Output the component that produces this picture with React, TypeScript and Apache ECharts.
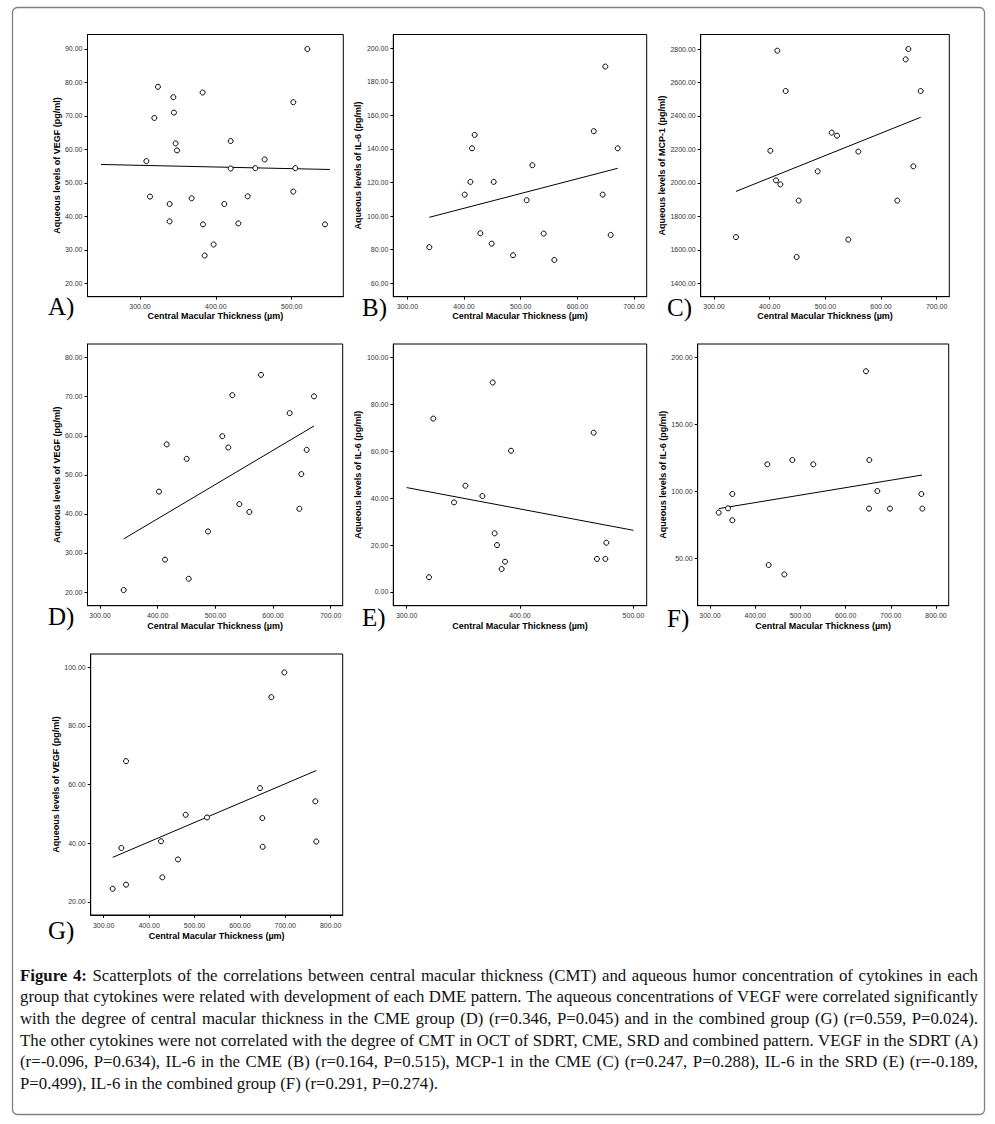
import React, { useEffect, useRef } from "react";
import * as echarts from "echarts";

// ---------- DATA ----------
// A) SDRT group: CMT vs VEGF
const cmtA = [520.7, 323.7, 382.6, 344.0, 502.2, 318.9, 344.8, 347.0, 348.8, 419.6, 308.4, 464.4, 419.6, 452.1, 504.8, 313.2, 368.1, 442.0, 502.2, 339.1, 411.2, 339.1, 383.1, 429.7, 544.0, 397.1, 385.3];
const vegfA = [90.0, 78.7, 77.0, 75.6, 74.1, 69.4, 71.0, 61.8, 59.7, 62.5, 56.5, 57.0, 54.3, 54.4, 54.4, 45.9, 45.4, 46.0, 47.4, 43.7, 43.7, 38.5, 37.6, 37.9, 37.6, 31.6, 28.3];
const fitA = [[248.6, 55.5], [550.5, 54.0]];

// B) CME group: CMT vs IL-6
const cmtB = [338.8, 401.2, 411.2, 414.1, 418.8, 428.8, 448.8, 452.4, 486.5, 510.6, 520.6, 540.6, 559.4, 629.0, 649.4, 644.7, 658.8, 671.2];
const il6B = [81.5, 112.8, 120.4, 140.4, 148.4, 89.8, 83.6, 120.4, 76.7, 109.5, 130.3, 89.6, 73.9, 150.6, 189.1, 112.8, 88.8, 140.4];
const fitB = [[338.8, 99.3], [671.2, 128.5]];

// C) CME group: CMT vs MCP-1
const cmtC = [339.5, 401.2, 411.4, 413.8, 419.2, 428.7, 448.5, 452.1, 486.2, 511.4, 521.0, 541.3, 559.3, 629.3, 644.3, 649.1, 658.1, 671.3];
const mcpC = [1676, 2192, 2015, 2790, 1991, 2549, 1557, 1894, 2069, 2300, 2282, 1661, 2187, 1894, 2738, 2800, 2099, 2549];
const fitC = [[339.5, 1949], [671.3, 2392]];

// D) CME group: CMT vs VEGF
const cmtD = [341.0, 402.3, 412.7, 415.6, 450.3, 453.8, 487.3, 512.1, 522.5, 529.5, 541.6, 559.0, 579.2, 628.9, 645.7, 649.1, 658.4, 671.1];
const vegfD = [20.5, 45.7, 28.3, 57.8, 54.1, 23.4, 35.5, 59.9, 57.0, 70.4, 42.5, 40.5, 75.6, 65.8, 41.3, 50.2, 56.4, 70.1];
const fitD = [[341.0, 33.6], [671.1, 62.5]];

// E) SRD group: CMT vs IL-6
const cmtE = [319.7, 323.5, 341.8, 351.8, 366.8, 375.9, 377.6, 379.7, 383.8, 386.8, 392.1, 465.0, 467.9, 475.3, 476.2];
const il6E = [6.3, 73.9, 38.2, 45.3, 40.9, 89.3, 25.0, 20.0, 9.8, 12.9, 60.2, 67.9, 14.1, 14.1, 21.0];
const fitE = [[300, 44.5], [500, 26.3]];

// F) Combined group: CMT vs IL-6
const cmtF = [319.2, 339.8, 349.4, 349.4, 426.8, 429.8, 482.2, 464.5, 528.6, 645.1, 652.5, 651.8, 670.2, 698.2, 767.6, 769.8];
const il6F = [84.3, 87.5, 98.2, 78.6, 120.3, 45.3, 123.5, 38.3, 120.3, 189.6, 123.5, 87.3, 100.4, 87.3, 98.2, 87.3];
const fitF = [[319.2, 87.3], [769.0, 112.3]];

// G) Combined group: CMT vs VEGF
const cmtG = [319.8, 338.9, 349.2, 349.2, 426.3, 429.2, 463.7, 480.6, 527.6, 644.3, 649.5, 650.2, 669.3, 698.0, 766.2, 768.4];
const vegfG = [24.5, 38.4, 25.9, 68.0, 40.7, 28.4, 34.5, 49.7, 48.8, 58.8, 48.6, 38.8, 89.8, 98.2, 54.3, 40.6];
const fitG = [[319.8, 35.2], [768.4, 64.8]];

// tick values
const xTicksA = [300, 400, 500];
const xTicksBCD = [300, 400, 500, 600, 700];
const xTicksE = [300, 400, 500];
const xTicksFG = [300, 400, 500, 600, 700, 800];
const yTicksA = [20, 30, 40, 50, 60, 70, 80, 90];
const yTicksB = [60, 80, 100, 120, 140, 160, 180, 200];
const yTicksC = [1400, 1600, 1800, 2000, 2200, 2400, 2600, 2800];
const yTicksD = [20, 30, 40, 50, 60, 70, 80];
const yTicksE = [0, 20, 40, 60, 80, 100];
const yTicksF = [50, 100, 150, 200];
const yTicksG = [20, 40, 60, 80, 100];

const xTitle = "Central Macular Thickness (µm)";
const yTitleVEGF = "Aqueous levels of VEGF (pg/ml)";
const yTitleIL6 = "Aqueous levels of IL-6 (pg/ml)";
const yTitleMCP = "Aqueous levels of MCP-1 (pg/ml)";
const panelLetters = ["A)", "B)", "C)", "D)", "E)", "F)", "G)"];

const captionLines = [
  "Figure 4: Scatterplots of the correlations between central macular thickness (CMT) and aqueous humor concentration of cytokines in each",
  "group that cytokines were related with development of each DME pattern. The aqueous concentrations of VEGF were correlated significantly",
  "with the degree of central macular thickness in the CME group (D) (r=0.346, P=0.045) and in the combined group (G) (r=0.559, P=0.024).",
  "The other cytokines were not correlated with the degree of CMT in OCT of SDRT, CME, SRD and combined pattern. VEGF in the SDRT (A)",
  "(r=-0.096, P=0.634), IL-6 in the CME (B) (r=0.164, P=0.515), MCP-1 in the CME (C) (r=0.247, P=0.288), IL-6 in the SRD (E) (r=-0.189,",
  "P=0.499), IL-6 in the combined group (F) (r=0.291, P=0.274).",
];

// ---------- LAYOUT ----------
const SANS = '"Liberation Sans", Arial, sans-serif';
const SERIF = '"Liberation Serif", "Times New Roman", serif';

const panelData = [
  { xs: cmtA, ys: vegfA, fit: fitA, xt: xTicksA, yt: yTicksA, yName: yTitleVEGF },
  { xs: cmtB, ys: il6B, fit: fitB, xt: xTicksBCD, yt: yTicksB, yName: yTitleIL6 },
  { xs: cmtC, ys: mcpC, fit: fitC, xt: xTicksBCD, yt: yTicksC, yName: yTitleMCP },
  { xs: cmtD, ys: vegfD, fit: fitD, xt: xTicksBCD, yt: yTicksD, yName: yTitleVEGF },
  { xs: cmtE, ys: il6E, fit: fitE, xt: xTicksE, yt: yTicksE, yName: yTitleIL6 },
  { xs: cmtF, ys: il6F, fit: fitF, xt: xTicksFG, yt: yTicksF, yName: yTitleIL6 },
  { xs: cmtG, ys: vegfG, fit: fitG, xt: xTicksFG, yt: yTicksG, yName: yTitleVEGF },
];

const layout = [
  { l: 87.5, t: 34.5, r: 343.3, b: 296.7, xMin: 230.8, xMax: 568.1, yMin: 16.0, yMax: 94.33, yGap: 24.5, xGap: 15, lx: 48, ly: 306 },
  { l: 393.3, t: 34.5, r: 646.7, b: 296.7, xMin: 275.2, xMax: 722.4, yMin: 52.0, yMax: 208.2, yGap: 28, xGap: 15, lx: 362, ly: 307 },
  { l: 700.7, t: 34.5, r: 949.3, b: 296.7, xMin: 276.1, xMax: 722.7, yMin: 1319.7, yMax: 2886.7, yGap: 30.5, xGap: 15, lx: 667, ly: 307 },
  { l: 87.5, t: 344, r: 342.7, b: 605.7, xMin: 278.3, xMax: 720.9, yMin: 16.5, yMax: 83.5, yGap: 24.5, xGap: 15.5, lx: 48, ly: 616 },
  { l: 393.3, t: 344, r: 646.7, b: 605.7, xMin: 288.2, xMax: 511.8, yMin: -5.84, yMax: 105.7, yGap: 28, xGap: 15.5, lx: 362, ly: 617 },
  { l: 697.7, t: 344, r: 948.7, b: 605.7, xMin: 272.8, xMax: 828.1, yMin: 15.0, yMax: 209.9, yGap: 27.5, xGap: 15.5, lx: 667, ly: 618 },
  { l: 90.7, t: 654, r: 342.7, b: 915, xMin: 271.4, xMax: 826.5, yMin: 15.57, yMax: 104.5, yGap: 27, xGap: 16, lx: 48, ly: 930 },
];

const CAP_LEFT = 20;
const CAP_RIGHT = 978;
const CAP_TOP = 975;
const CAP_LH = 21.7;
const CAP_SIZE = 16.8;

function buildCaption(): any[] {
  const canvas = document.createElement("canvas");
  const ctx = canvas.getContext("2d") as CanvasRenderingContext2D;
  const fontOf = (bold: boolean) => `${bold ? "bold " : ""}${CAP_SIZE}px ${SERIF}`;
  const out: any[] = [];
  captionLines.forEach((line, li) => {
    const words = line.split(" ");
    const isBold = (wi: number) => li === 0 && wi < 2;
    const widths = words.map((w, wi) => {
      ctx.font = fontOf(isBold(wi));
      return ctx.measureText(w).width;
    });
    ctx.font = fontOf(false);
    const space = ctx.measureText(" ").width;
    const sum = widths.reduce((a, b) => a + b, 0);
    const last = li === captionLines.length - 1;
    let gap = last ? space : (CAP_RIGHT - CAP_LEFT - sum) / (words.length - 1);
    if (gap < space * 0.5) gap = space * 0.5;
    let x = CAP_LEFT;
    const y = CAP_TOP + li * CAP_LH;
    words.forEach((w, wi) => {
      out.push({
        type: "text",
        x,
        y,
        silent: true,
        style: {
          text: w,
          fontSize: CAP_SIZE,
          fontFamily: SERIF,
          fontWeight: isBold(wi) ? "bold" : "normal",
          fill: "#111",
          align: "left",
          verticalAlign: "middle",
        },
      });
      x += widths[wi] + gap;
    });
  });
  return out;
}

export default function App() {
  const ref = useRef<HTMLDivElement>(null);

  useEffect(() => {
    if (!ref.current) return;
    const chart = echarts.init(ref.current, null, { renderer: "svg" });

    const grids: any[] = [];
    const xAxes: any[] = [];
    const yAxes: any[] = [];
    const series: any[] = [];
    const graphics: any[] = [];

    panelData.forEach((p, i) => {
      const L = layout[i];
      grids.push({
        left: L.l,
        top: L.t,
        width: L.r - L.l,
        height: L.b - L.t,
        show: true,
        borderColor: "#000",
        borderWidth: 1,
        backgroundColor: "transparent",
      });
      xAxes.push({
        type: "value",
        gridIndex: i,
        min: L.xMin,
        max: L.xMax,
        name: xTitle,
        nameLocation: "middle",
        nameGap: L.xGap,
        nameTextStyle: { fontFamily: SANS, fontSize: 9, fontWeight: "bold", color: "#000" },
        axisLine: { show: true, onZero: false, lineStyle: { color: "#000", width: 1 } },
        axisTick: { show: true, length: 3, customValues: p.xt, lineStyle: { color: "#000", width: 1 } },
        axisLabel: {
          customValues: p.xt,
          formatter: (v: number) => v.toFixed(2),
          fontFamily: SANS,
          fontSize: 7,
          color: "#333",
          margin: 6.5,
        },
        splitLine: { show: false },
      });
      yAxes.push({
        type: "value",
        gridIndex: i,
        min: L.yMin,
        max: L.yMax,
        name: p.yName,
        nameLocation: "middle",
        nameRotate: 90,
        nameGap: L.yGap,
        nameTextStyle: { fontFamily: SANS, fontSize: 9, fontWeight: "bold", color: "#000" },
        axisLine: { show: true, onZero: false, lineStyle: { color: "#000", width: 1 } },
        axisTick: { show: true, length: 3, customValues: p.yt, lineStyle: { color: "#000", width: 1 } },
        axisLabel: {
          customValues: p.yt,
          formatter: (v: number) => v.toFixed(2),
          fontFamily: SANS,
          fontSize: 7,
          color: "#333",
          margin: 5,
        },
        splitLine: { show: false },
      });
      series.push({
        type: "line",
        xAxisIndex: i,
        yAxisIndex: i,
        data: p.fit,
        symbol: "none",
        silent: true,
        lineStyle: { color: "#000", width: 1 },
        z: 2,
      });
      series.push({
        type: "scatter",
        xAxisIndex: i,
        yAxisIndex: i,
        data: p.xs.map((x, k) => [x, p.ys[k]]),
        symbol: "circle",
        symbolSize: 5,
        itemStyle: { color: "#fff", borderColor: "#000", borderWidth: 1, opacity: 1 },
        z: 3,
      });
      graphics.push({
        type: "text",
        x: L.lx,
        y: L.ly,
        silent: true,
        style: {
          text: panelLetters[i],
          fontSize: 25,
          fontFamily: SERIF,
          fill: "#000",
          align: "left",
          verticalAlign: "middle",
        },
      });
    });

    graphics.push({
      type: "rect",
      silent: true,
      shape: { x: 12.5, y: 7.5, width: 972, height: 1107, r: 5 },
      style: { fill: "none", stroke: "#808080", lineWidth: 1.3 },
    });

    buildCaption().forEach((g) => graphics.push(g));

    chart.setOption({
      animation: false,
      backgroundColor: "#fff",
      grid: grids,
      xAxis: xAxes,
      yAxis: yAxes,
      series,
      graphic: graphics,
    });

    return () => {
      chart.dispose();
    };
  }, []);

  return (
    <div
      ref={ref}
      style={{ position: "absolute", left: 0, top: 0, width: 995, height: 1124, background: "#fff" }}
    />
  );
}
